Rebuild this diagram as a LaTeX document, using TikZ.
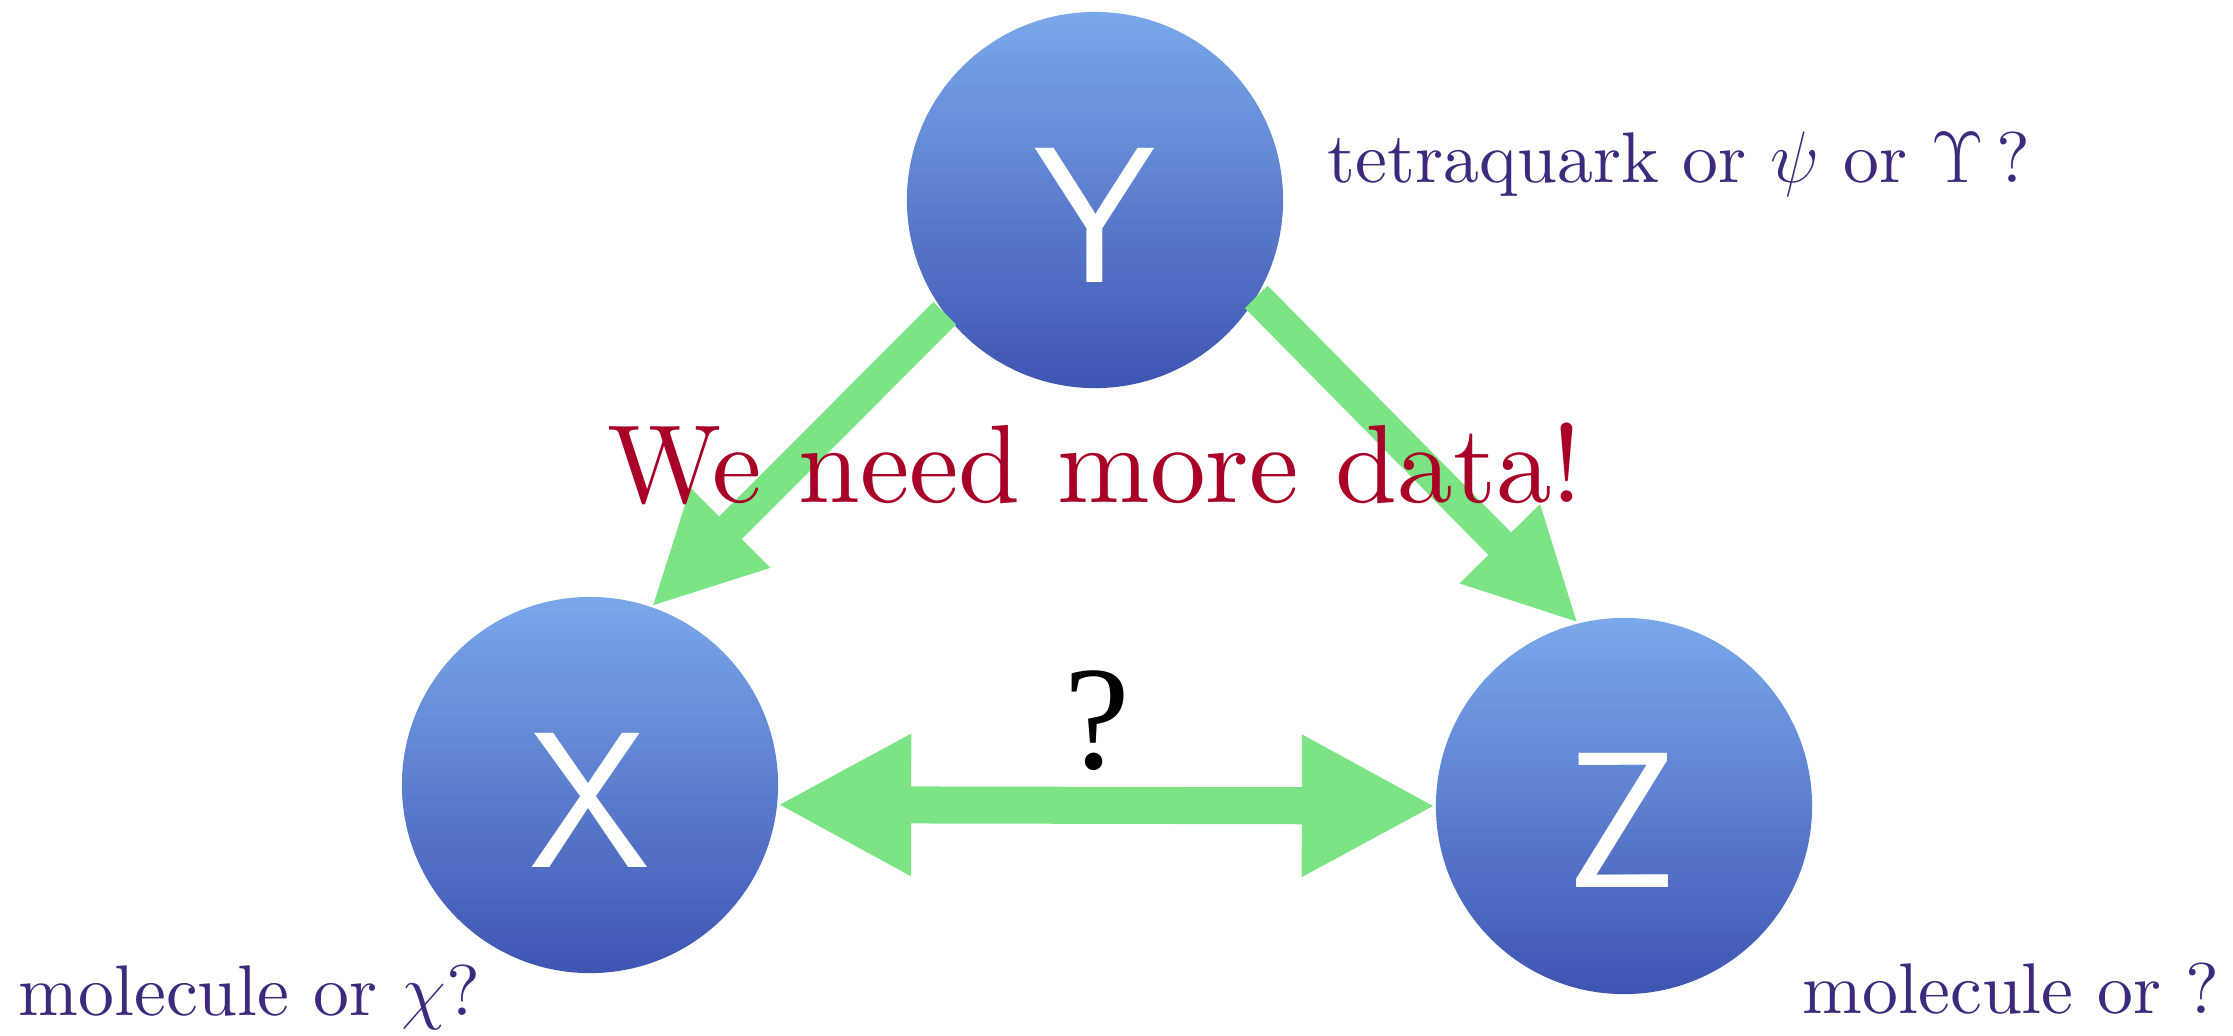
\documentclass[tikz,border=0pt]{standalone}
\usepackage{fontspec}
\newfontfamily\lmten{lmroman10-regular}[Extension=.otf]
\newfontfamily\timesfont{Liberation Serif}
\usetikzlibrary{arrows.meta}
\definecolor{bluetop}{RGB}{122,168,234}
\definecolor{bluebot}{RGB}{62,85,178}
\definecolor{arrowgreen}{RGB}{125,228,133}
\definecolor{datared}{RGB}{168,0,38}
\definecolor{labelpurple}{RGB}{62,42,125}
\begin{document}
\begin{tikzpicture}[x=0.01cm,y=-0.01cm,
  ball/.style={circle, minimum size=3.76cm, inner sep=0pt, outer sep=0pt,
    top color=bluetop, bottom color=bluebot, draw=none},
  ballname/.style={text=white, inner sep=0pt, font=\sffamily\fontsize{55pt}{60pt}\selectfont},
  diagarrow/.style={draw=arrowgreen, line width=0.32cm,
    -{Triangle[length=1.12cm,width=1.04cm,fill=arrowgreen]}},
  duoarrow/.style={draw=arrowgreen, line width=0.37cm,
    {Triangle[length=1.34cm,width=1.32cm,fill=arrowgreen]}-{Triangle[length=1.34cm,width=1.32cm,fill=arrowgreen]}},
  purplelabel/.style={text=labelpurple, inner sep=0pt, anchor=base west,
    font=\lmten\fontsize{20.4pt}{24pt}\selectfont},
  bigred/.style={text=datared, inner sep=0pt, anchor=base,
    font=\lmten\fontsize{31.6pt}{36pt}\selectfont},
  qmark/.style={text=black, inner sep=0pt, anchor=base,
    font=\timesfont\fontsize{42pt}{46pt}\selectfont}
]
\useasboundingbox (0,0) rectangle (2233,1035);

\node[ball] (Y) at (1095,200) {};
\node[ball] (X) at (590,785) {};
\node[ball] (Z) at (1624,806) {};

\node[ballname] (Ylab) at (1095,215) {Y};
\node[ballname] (Xlab) at (590,800) {X};
\node[ballname] (Zlab) at (1622,820) {Z};

\draw[diagarrow] (Y.217) -- (X.71);
\draw[diagarrow] (Y.-31) -- (Z.104);
\draw[duoarrow] (X.-6) -- (Z.180);

\node[qmark] (q) at (1097,768) {?};
\node[bigred] (data) at (1095,502) {We need more data!};

\node[purplelabel] (ytext) at (1327,182) {tetraquark or $\psi$ or $\Upsilon$\,?};
\node[purplelabel] (xtext) at (18,1015) {molecule or $\chi$?};
\node[purplelabel] (ztext) at (1802,1013) {molecule or ?};
\end{tikzpicture}
\end{document}
